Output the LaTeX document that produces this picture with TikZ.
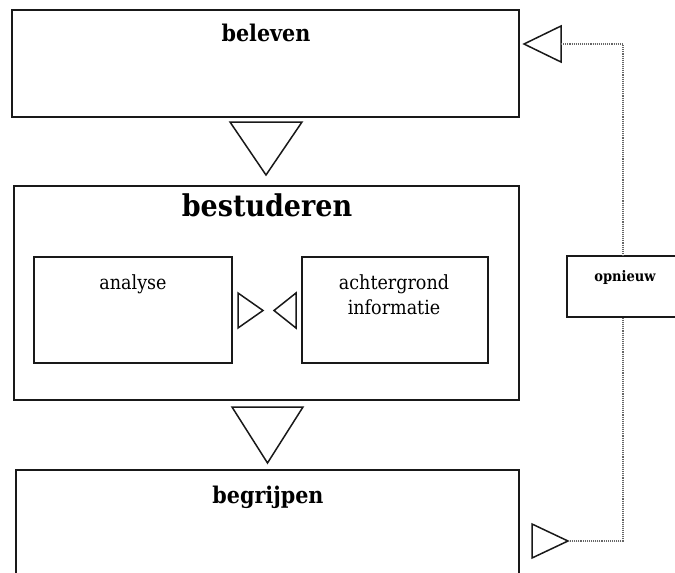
\documentclass[tikz,border=0pt]{standalone}
\usepackage{fontspec}
\setmainfont{DejaVu Serif Condensed}
\begin{document}
\begin{tikzpicture}[x=1pt,y=-1pt,
  box/.style={draw=black!90,line width=1.7pt,rectangle,inner sep=0pt},
  tri/.style={draw=black!90,line width=1.5pt,line join=miter,fill=white},
  loop/.style={draw=black!60,line width=1.1pt,densely dotted},
  head/.style={font=\bfseries\fontsize{23}{26}\selectfont,inner sep=0pt,anchor=base},
  bighead/.style={font=\bfseries\fontsize{30}{34}\selectfont,inner sep=0pt,anchor=base},
  txt/.style={font=\fontsize{19.5}{22}\selectfont,inner sep=0pt,anchor=base},
  small/.style={font=\bfseries\fontsize{14.5}{17}\selectfont,inner sep=0pt,anchor=base}]
\useasboundingbox (0,0) rectangle (675,573);
% boxes
\node[box,minimum width=507pt,minimum height=107pt] (beleven) at (265.5,63.5) {};
\node[box,minimum width=505pt,minimum height=214pt] (bestuderen) at (266.5,293) {};
\node[box,minimum width=198pt,minimum height=106pt] (analyse) at (133,310) {};
\node[box,minimum width=186pt,minimum height=106pt] (achter) at (395,310) {};
\node[box,minimum width=503pt,minimum height=160pt] (begrijpen) at (267.5,550) {};
\node[box,minimum width=140pt,minimum height=61pt] (opnieuw) at (637,286.5) {};
% texts
\node[head] (tbeleven) at (266,41) {beleven};
\node[bighead] (tbestuderen) at (267,216.5) {bestuderen};
\node[txt] (tanalyse) at (133,289) {analyse};
\node[txt] (tachter) at (394,289) {achtergrond};
\node[txt] (tinfo) at (394,314) {informatie};
\node[head] (tbegrijpen) at (268,503) {begrijpen};
\node[small] (topnieuw) at (625,281.5) {opnieuw};
% big down triangles
\draw[tri] (230,122) -- (302,122) -- (266,175) -- cycle;
\draw[tri] (232,407) -- (303,407) -- (267.5,463) -- cycle;
% small triangles between inner boxes
\draw[tri] (238,293) -- (263,310.5) -- (238,328) -- cycle;
\draw[tri] (296,293) -- (274,310.5) -- (296,328) -- cycle;
% loop triangles
\draw[tri] (561,26) -- (524,44) -- (561,62) -- cycle;
\draw[tri] (532,524) -- (568,541) -- (532,558) -- cycle;
\coordinate (ltop) at (561,44);
\coordinate (lbot) at (568,541);
% dotted loop
\draw[loop] (ltop) -- (623,44) -- (623,0 |- opnieuw.north);
\draw[loop] (623,0 |- opnieuw.south) -- (623,541) -- (lbot);
\end{tikzpicture}
\end{document}
